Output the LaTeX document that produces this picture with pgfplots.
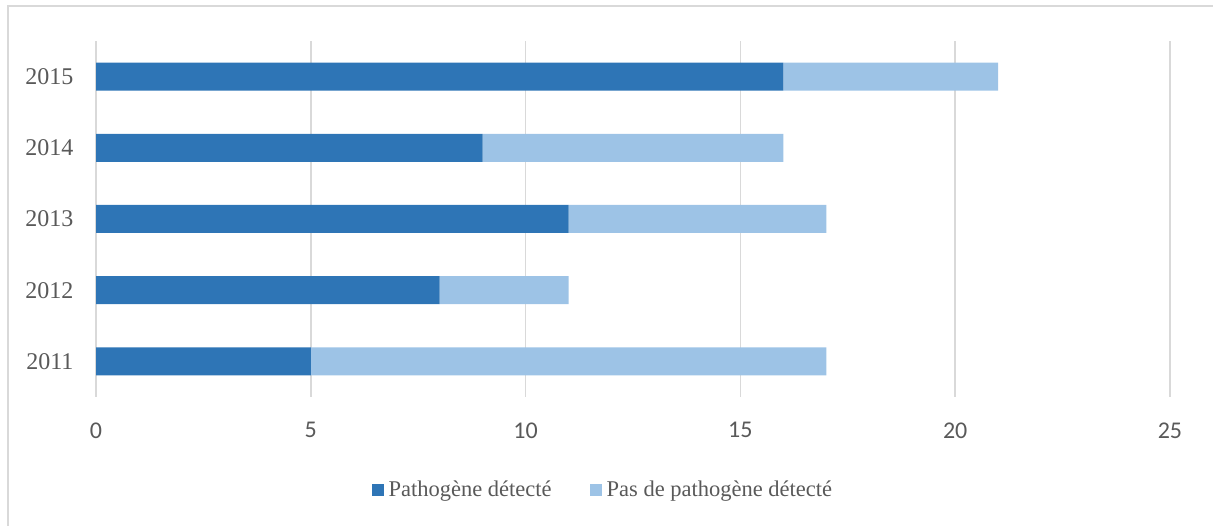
\documentclass[border=0pt]{standalone}
\usepackage{fontspec}
\setmainfont{Liberation Serif}
\newfontfamily\calibri{Carlito}
\usepackage{pgfplots}
\pgfplotsset{compat=1.18}
\definecolor{dark}{HTML}{2E75B6}
\definecolor{light}{HTML}{9DC3E6}
\definecolor{txt}{HTML}{595959}
\definecolor{gridc}{HTML}{D9D9D9}
\definecolor{framec}{HTML}{D9D9D9}
\pgfplotsset{
  sqlegend/.style={legend image code/.code={\fill[##1] (0bp,-6bp) rectangle (12bp,6bp); \path (15bp,0bp);}}
}
\begin{document}
\begin{tikzpicture}[x=1bp,y=1bp]
\path[use as bounding box] (0,0) rectangle (1213,526);
\draw[framec, line width=2bp] (8,0) -- (8,520) -- (1213,520);
\begin{axis}[
  at={(96bp,129bp)}, anchor=south west,
  scale only axis, width=1074bp, height=356bp,
  xbar stacked, bar width=28bp,
  xmin=0, xmax=25, ymin=-0.5, ymax=4.5,
  xtick={0,5,...,25}, ytick={0,1,2,3,4},
  yticklabels={2011,2012,2013,2014,2015},
  axis line style={draw=none},
  major tick length=0pt,
  xmajorgrids, grid style={gridc, line width=1.5bp},
  /pgf/number format/assume math mode=true,
  xticklabel style={font=\calibri\fontsize{24bp}{28bp}\selectfont, text=txt, yshift=-22bp},
  yticklabel style={font=\fontsize{24bp}{28bp}\selectfont, text=txt, xshift=-19bp},
  legend style={at={(0.472,-0.261)}, anchor=center, draw=none, legend columns=2,
    font=\fontsize{22.5bp}{27bp}\selectfont, text=txt,
    /tikz/every even column/.append style={column sep=36bp}},
  sqlegend,
]
\addplot[fill=dark, draw=none] coordinates {(5,0) (8,1) (11,2) (9,3) (16,4)};
\addplot[fill=light, draw=none] coordinates {(12,0) (3,1) (6,2) (7,3) (5,4)};
\legend{Pathogène détecté, Pas de pathogène détecté}
\end{axis}
\end{tikzpicture}
\end{document}
